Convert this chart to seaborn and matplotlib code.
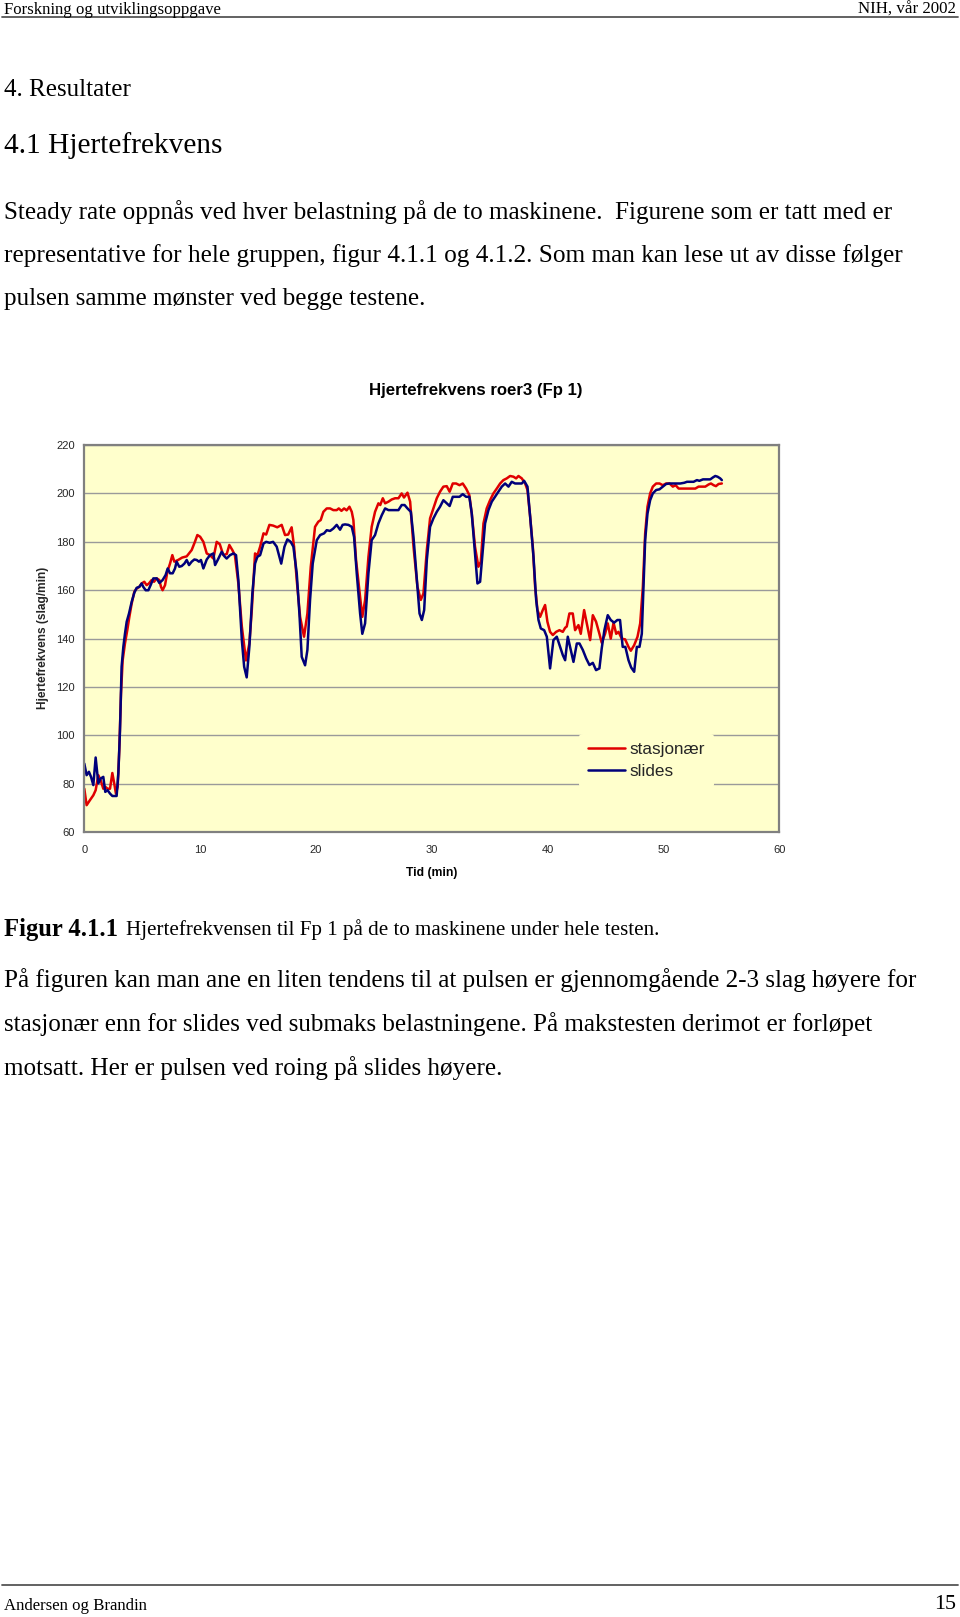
import numpy as np
import pandas as pd
import matplotlib
matplotlib.use("Agg")
import matplotlib.pyplot as plt
from matplotlib.lines import Line2D
import seaborn as sns

# ---------------- data ----------------
stasjonaer_t = [0.0, 0.2, 0.49, 0.78, 0.98, 1.21, 1.41, 1.64, 1.81, 2.01, 2.22, 2.42, 2.59, 2.73, 2.88,
                3.02, 3.17, 3.31, 3.51, 3.71, 3.89, 4.09, 4.32, 4.52, 4.75, 4.95, 5.18, 5.38, 5.58, 5.81,
                6.02, 6.25, 6.48, 6.62, 6.76, 6.97, 7.17, 7.40, 7.60, 7.77, 8.1, 8.45, 8.84, 9.27, 9.55,
                9.76, 10.0, 10.28, 10.57, 10.85, 11.14, 11.43, 11.7, 12.0, 12.3, 12.52, 12.78, 13.0, 13.3,
                13.6, 13.96, 14.25, 14.46, 14.74, 14.95, 15.18, 15.47, 15.7, 15.98, 16.3, 16.66, 17.04,
                17.33, 17.6, 17.9, 18.11, 18.34, 18.63, 18.97, 19.26, 19.55, 19.92, 20.2, 20.41, 20.64,
                20.93, 21.22, 21.5, 21.79, 21.97, 22.2, 22.43, 22.65, 22.89, 23.09, 23.23, 23.46, 23.75,
                24.0, 24.24, 24.53, 24.81, 25.1, 25.39, 25.55, 25.77, 25.97, 26.26, 26.54, 26.83, 27.12,
                27.4, 27.6, 27.9, 28.13, 28.42, 28.76, 29.05, 29.28, 29.57, 29.85, 30.14, 30.43, 30.71,
                31.0, 31.29, 31.54, 31.81, 32.1, 32.39, 32.67, 32.96, 33.24, 33.45, 33.73, 34.02, 34.23,
                34.46, 34.74, 35.03, 35.32, 35.61, 35.9, 36.18, 36.47, 36.76, 37.05, 37.28, 37.48, 37.77,
                38.06, 38.26, 38.49, 38.72, 38.92, 39.12, 39.35, 39.58, 39.78, 39.98, 40.21, 40.45, 40.73,
                41.02, 41.31, 41.51, 41.65, 41.88, 42.17, 42.37, 42.66, 42.86, 43.15, 43.38, 43.67, 43.9,
                44.18, 44.47, 44.67, 44.96, 45.19, 45.45, 45.69, 45.92, 46.12, 46.4, 46.69, 46.98, 47.18,
                47.47, 47.76, 47.99, 48.22, 48.42, 48.62, 48.85, 49.08, 49.37, 49.66, 49.94, 50.23, 50.52,
                50.81, 51.05, 51.31, 51.6, 51.88, 52.17, 52.46, 52.75, 53.03, 53.32, 53.61, 53.9, 54.1,
                54.33, 54.53, 54.76, 55.04]
stasjonaer_hr = [78, 71.2, 73.3, 75.3, 77.4, 83.6, 81.5, 78, 78.8, 78, 78, 84.5, 80, 76, 78.8,
                 94, 117.4, 131, 138, 143.5, 149, 154.5, 159.4, 160.7, 161.4, 162.8, 163.5, 162.1, 162.8, 164.2,
                 163.5, 164.9, 164.2, 161.4, 160, 162.1, 167.6, 171, 174.5, 171.8, 172.5, 173.5, 174, 176.6, 180,
                 182.8, 182.1, 180, 175.2, 174.5, 173.1, 180, 179, 174.5, 175, 178.7, 176.6, 174.5, 162.8,
                 145, 131, 138, 151.8, 175.2, 174.5, 178, 183.5, 183, 187, 186.7, 186, 187,
                 182.8, 183, 186, 178, 164.2, 149, 140.8, 150.4, 169.7, 186.2, 188.3, 189, 192.4,
                 193.8, 193.8, 193.1, 193.1, 193.8, 192.8, 193.8, 193, 194.5, 192.4, 189, 172.5, 160,
                 149, 155.9, 173.8, 186.2, 192.4, 195.9, 195.2, 198, 195.9, 196.6, 197.5, 198, 198,
                 200, 198.3, 200.3, 196.6, 178, 161.4, 156, 158.7, 176.6, 189.7, 193.8, 198, 200.7,
                 202.8, 203, 200.7, 204.1, 204.1, 203.4, 204.1, 202, 199.3, 191.7, 178, 169.7, 171.8,
                 187.6, 193.8, 197.2, 200, 202, 204.1, 205.5, 206.2, 207.2, 206.9, 206.2, 207.2, 206.2,
                 204.1, 201.4, 190.4, 178, 161.4, 151.8, 149, 151.8, 153.9, 147, 142.8, 141.5, 142.8,
                 143.5, 142.8, 144.5, 145, 150.4, 150.4, 143.5, 145.6, 142, 151.8, 146.3, 139.4, 149.7,
                 147, 142, 138.3, 142, 146.3, 140, 146.6, 142, 142.8, 140, 139.7, 136.6, 135,
                 137.3, 140.8, 146.3, 161.4, 183.5, 194.5, 200, 202.8, 204.1, 204.1, 203.4, 204.1, 204.1,
                 202.8, 203.4, 202, 202, 202, 202, 202, 202, 202.8, 202.8, 202.8, 203.7, 204.1,
                 203.4, 203, 203.9, 204.1]

slides_t = [0.0, 0.2, 0.4, 0.58, 0.78, 0.98, 1.21, 1.41, 1.64, 1.81, 2.01, 2.22, 2.42, 2.79, 2.94,
            3.08, 3.22, 3.37, 3.51, 3.66, 3.86, 4.09, 4.32, 4.52, 4.75, 4.95, 5.09, 5.30, 5.53, 5.76,
            5.96, 6.25, 6.48, 6.76, 7.02, 7.20, 7.40, 7.63, 7.83, 7.97, 8.20, 8.41, 8.64, 8.84, 9.04,
            9.27, 9.50, 9.70, 9.90, 10.07, 10.28, 10.57, 10.85, 11.14, 11.29, 11.57, 11.86, 12.1, 12.29,
            12.58, 12.87, 13.1, 13.3, 13.6, 13.8, 14.02, 14.25, 14.51, 14.74, 14.94, 15.18, 15.47, 15.7,
            16.0, 16.3, 16.61, 17.0, 17.28, 17.53, 17.82, 18.05, 18.34, 18.57, 18.77, 19.06, 19.26,
            19.49, 19.72, 20.07, 20.36, 20.7, 20.93, 21.22, 21.5, 21.79, 22.08, 22.3, 22.51, 22.8,
            23.09, 23.29, 23.52, 23.81, 24.0, 24.24, 24.53, 24.81, 25.1, 25.39, 25.68, 25.97, 26.26,
            26.55, 26.83, 27.12, 27.4, 27.65, 27.9, 28.19, 28.42, 28.71, 28.94, 29.14, 29.34, 29.57,
            29.85, 30.14, 30.43, 30.71, 31.0, 31.29, 31.54, 31.81, 32.1, 32.39, 32.67, 32.96, 33.24,
            33.45, 33.73, 33.94, 34.17, 34.4, 34.6, 34.89, 35.18, 35.46, 35.75, 36.04, 36.33, 36.62,
            36.9, 37.19, 37.48, 37.77, 37.97, 38.26, 38.49, 38.78, 39.01, 39.21, 39.41, 39.7, 39.93,
            40.21, 40.5, 40.79, 41.08, 41.31, 41.51, 41.74, 42.03, 42.23, 42.52, 42.75, 43.04, 43.33,
            43.61, 43.9, 44.18, 44.47, 44.67, 44.9, 45.19, 45.45, 45.74, 46.02, 46.25, 46.48, 46.71,
            46.98, 47.21, 47.47, 47.7, 47.93, 48.13, 48.28, 48.42, 48.62, 48.85, 49.08, 49.37, 49.66,
            49.94, 50.23, 50.52, 50.81, 51.1, 51.45, 51.8, 52.03, 52.3, 52.6, 52.89, 53.1, 53.41,
            53.76, 54.04, 54.27, 54.47, 54.67, 54.9, 55.04]
slides_hr = [88.4, 83.6, 85, 82.9, 79.5, 90.9, 80.2, 82.2, 82.9, 76.7, 77.4, 76, 75, 75, 84.3,
             102, 128.4, 136.6, 142, 147, 150.4, 155.2, 159, 161, 161.4, 162.8, 161.4, 160, 160, 162.5,
             164.9, 164.9, 163, 164.2, 166.3, 169, 167, 167, 169, 171.8, 169.7, 170, 171, 172.5, 170.4,
             171.8, 172.7, 172.5, 171.8, 172.5, 169, 172.7, 174.5, 175.2, 170.4, 173, 175.9, 174, 173.1,
             174.5, 175.2, 174.5, 164.2, 139.4, 128.4, 124, 136.6, 158.7, 171, 173.8, 174.5, 179.3, 180,
             179.6, 180, 178, 171, 178, 181, 180, 178, 167, 150.4, 132.5, 129, 135.3,
             156, 171, 180.7, 182.8, 183.5, 184.8, 184.5, 185.5, 187, 185, 187, 187.2, 187,
             186.2, 182, 167, 150.4, 142, 146.3, 167, 180.7, 182.8, 187.6, 191, 193.8, 193.1,
             193.1, 193.1, 193.1, 195.2, 195.2, 193.8, 192.4, 182, 164.2, 150.4, 147.7, 151.8, 172.5,
             186.2, 189.7, 192.4, 194.5, 197.2, 195.9, 194.8, 198.6, 198.6, 198.6, 199.7, 198.6, 198.6,
             191.7, 175.2, 162.8, 163.5, 176.6, 187.6, 193.1, 196.6, 198.6, 200.7, 202.8, 204.1, 202.8,
             204.8, 204.1, 204.1, 204.1, 205.2, 202.8, 190.4, 173.8, 156, 147.7, 144.2, 143.5, 140.8,
             127.7, 139.4, 140.8, 136.5, 133.2, 131.1, 140.8, 134.6, 130.4, 138, 138, 135.3, 131.8,
             129.1, 130, 127, 127.7, 136, 143.5, 149.7, 147.7, 146.6, 147.7, 147.7, 136.6, 136.6,
             131.1, 128.1, 126.3, 136.6, 136.6, 142, 161.4, 180.7, 191.7, 197.2, 200, 201.4, 201.7,
             202.8, 203.9, 204.1, 204.1, 204.1, 204.1, 204.4, 204.8, 204.8, 204.8, 205.5, 205.2, 205.8,
             205.8, 205.8, 206.6, 207.2, 206.9, 206.2, 205.5]

series_names = ["stasjonær", "slides"]
x_ticks = [0, 10, 20, 30, 40, 50, 60]
y_ticks = [60, 80, 100, 120, 140, 160, 180, 200, 220]

chart_title = "Hjertefrekvens roer3 (Fp 1)"
x_label = "Tid (min)"
y_label = "Hjertefrekvens (slag/min)"

# ---------------- figure ----------------
W, H = 960, 1617
sns.set_style("white")
plt.rcParams["font.family"] = ["Liberation Sans", "DejaVu Sans"]
fig = plt.figure(figsize=(W / 100, H / 100), dpi=100)
fig.patch.set_facecolor("white")
renderer = fig.canvas.get_renderer()

SERIF = ["Liberation Serif", "DejaVu Serif"]
SANS = ["Liberation Sans", "DejaVu Sans"]


def fx(x):
    return x / W


def fy(y):
    return 1 - y / H


def fit_text(x, y, s, width, ha="left", family=SERIF, weight="normal", color="black"):
    t = fig.text(fx(x), fy(y), s, fontsize=10, ha=ha, va="center",
                 family=family, fontweight=weight, color=color)
    bb = t.get_window_extent(renderer)
    t.set_fontsize(10 * width / bb.width)
    return t


# page header
fit_text(4, 10, "Forskning og utviklingsoppgave", 217)
fit_text(956, 10, "NIH, vår 2002", 98, ha="right")
fig.add_artist(Line2D([fx(2), fx(958)], [fy(17), fy(17)], color="#555555", lw=1.3))

fit_text(4, 89.5, "4. Resultater", 127)
fit_text(4, 146, "4.1 Hjertefrekvens", 219)

body1 = ["Steady rate oppnås ved hver belastning på de to maskinene.  Figurene som er tatt med er",
         "representative for hele gruppen, figur 4.1.1 og 4.1.2. Som man kan lese ut av disse følger",
         "pulsen samme mønster ved begge testene."]
for s, yy, w in zip(body1, [212.5, 255.5, 299], [891, 896, 421]):
    fit_text(4, yy, s, w)

# chart
ax = fig.add_axes([fx(84.3), fy(832.3), (779.3 - 84.3) / W, (832.3 - 445) / H])
ax.set_facecolor("#FFFFCC")

df = pd.concat([
    pd.DataFrame({"t": stasjonaer_t, "hr": stasjonaer_hr, "serie": series_names[0]}),
    pd.DataFrame({"t": slides_t, "hr": slides_hr, "serie": series_names[1]}),
], ignore_index=True)

sns.lineplot(data=df, x="t", y="hr", hue="serie", hue_order=series_names,
             palette={series_names[0]: "#E00000", series_names[1]: "#00007A"},
             estimator=None, sort=False, lw=1.8, ax=ax, legend=True)

ax.set_xlim(0, 60)
ax.set_ylim(60, 220)
ax.set_xticks(x_ticks)
ax.set_yticks(y_ticks)
ax.set_xticklabels([str(v) for v in x_ticks], fontsize=8)
ax.set_yticklabels([str(v) for v in y_ticks], fontsize=8)
ax.grid(axis="y", color="#9A9A9A", lw=1.0)
ax.grid(axis="x", visible=False)
ax.set_axisbelow(True)
for sp in ax.spines.values():
    sp.set_color("#808080")
    sp.set_linewidth(1.6)
ax.tick_params(axis="both", length=4, width=1, color="#808080", direction="out", pad=3)
ax.tick_params(axis="x", pad=5)
ax.set_xlabel("")
ax.set_ylabel("")

leg = ax.legend(loc="upper left", bbox_to_anchor=(0.712, 0.254), frameon=True,
                fontsize=12.3, handlelength=2.2, handletextpad=0.25, labelspacing=0.4,
                borderpad=0.5, borderaxespad=0)
leg.get_frame().set_facecolor("#FFFFCC")
leg.get_frame().set_edgecolor("none")
leg.get_frame().set_alpha(1)
for line in leg.get_lines():
    line.set_linewidth(1.8)

fit_text(475.5, 390.5, chart_title, 213, ha="center", family=SANS, weight="bold")
fit_text(431.5, 873, x_label, 51, ha="center", family=SANS, weight="bold")
fig.text(fx(43), fy(638), y_label, rotation=90, ha="center", va="center",
         family=SANS, fontweight="bold", fontsize=8.6)

# caption
fit_text(4, 929, "Figur 4.1.1", 114, weight="bold")
fit_text(126, 930, "Hjertefrekvensen til Fp 1 på de to maskinene under hele testen.", 530)

body2 = ["På figuren kan man ane en liten tendens til at pulsen er gjennomgående 2-3 slag høyere for",
         "stasjonær enn for slides ved submaks belastningene. På makstesten derimot er forløpet",
         "motsatt. Her er pulsen ved roing på slides høyere."]
for s, yy, w in zip(body2, [980.5, 1024.5, 1068], [915, 871, 498]):
    fit_text(4, yy, s, w)

# footer
fig.add_artist(Line2D([fx(2), fx(958)], [fy(1585), fy(1585)], color="#555555", lw=1.3))
fit_text(4, 1606, "Andersen og Brandin", 143)
fit_text(956, 1604, "15", 22, ha="right")

fig.savefig("out.png", dpi=100, facecolor="white")
